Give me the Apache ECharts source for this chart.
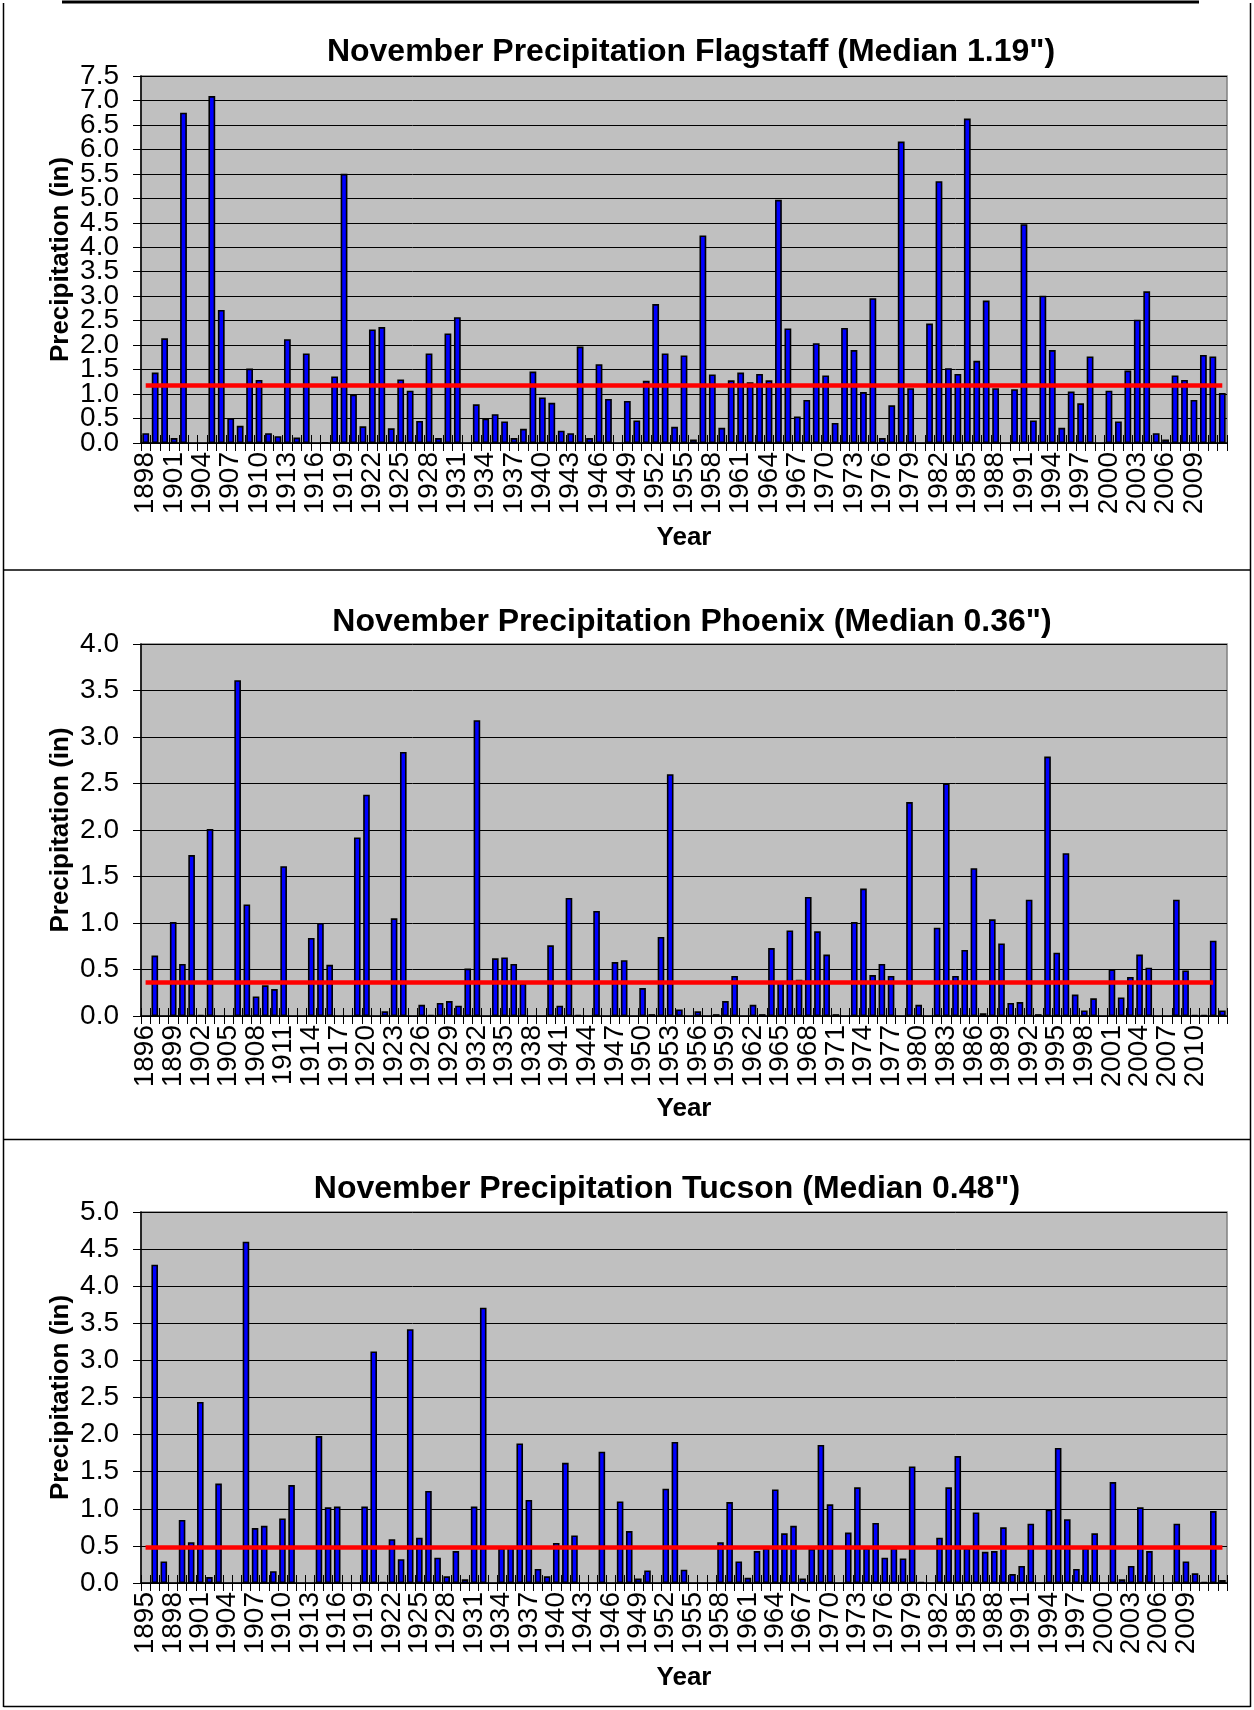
<!DOCTYPE html>
<html>
<head>
<meta charset="utf-8">
<script src="https://cdn.jsdelivr.net/npm/echarts@6/dist/echarts.min.js"></script>
<style>
  html, body { margin: 0; padding: 0; background: #ffffff; }
  #chart { width: 1254px; height: 1710px; }
</style>
</head>
<body>
<div id="chart"></div>
<script>
// ---------- Flagstaff ----------
const flagstaffYears = [
  1898, 1899,
  1900, 1901, 1902, 1903, 1904, 1905, 1906, 1907, 1908, 1909,
  1910, 1911, 1912, 1913, 1914, 1915, 1916, 1917, 1918, 1919,
  1920, 1921, 1922, 1923, 1924, 1925, 1926, 1927, 1928, 1929,
  1930, 1931, 1932, 1933, 1934, 1935, 1936, 1937, 1938, 1939,
  1940, 1941, 1942, 1943, 1944, 1945, 1946, 1947, 1948, 1949,
  1950, 1951, 1952, 1953, 1954, 1955, 1956, 1957, 1958, 1959,
  1960, 1961, 1962, 1963, 1964, 1965, 1966, 1967, 1968, 1969,
  1970, 1971, 1972, 1973, 1974, 1975, 1976, 1977, 1978, 1979,
  1980, 1981, 1982, 1983, 1984, 1985, 1986, 1987, 1988, 1989,
  1990, 1991, 1992, 1993, 1994, 1995, 1996, 1997, 1998, 1999,
  2000, 2001, 2002, 2003, 2004, 2005, 2006, 2007, 2008, 2009,
  2010, 2011, 2012
];
const flagstaffPrecip = [
  0.20, 1.44,
  2.14, 0.10, 6.75, null, null, 7.09, 2.72, 0.51, 0.35, 1.52,
  1.29, 0.20, 0.14, 2.12, 0.11, 1.83, null, 0.01, 1.36, 5.50,
  0.99, 0.34, 2.32, 2.37, 0.30, 1.30, 1.07, 0.45, 1.83, 0.10,
  2.24, 2.57, null, 0.79, 0.50, 0.59, 0.44, 0.10, 0.29, 1.46,
  0.93, 0.82, 0.25, 0.20, 1.97, 0.10, 1.61, 0.90, null, 0.86,
  0.46, 1.27, 2.84, 1.83, 0.33, 1.79, 0.07, 4.24, 1.40, 0.31,
  1.28, 1.44, 1.24, 1.41, 1.28, 4.97, 2.34, 0.54, 0.88, 2.04,
  1.38, 0.41, 2.35, 1.90, 1.04, 2.96, 0.10, 0.77, 6.16, 1.12,
  null, 2.44, 5.35, 1.53, 1.41, 6.63, 1.68, 2.91, 1.12, null,
  1.10, 4.47, 0.46, 3.01, 1.90, 0.31, 1.05, 0.81, 1.77, null,
  1.07, 0.44, 1.48, 2.52, 3.10, 0.20, 0.07, 1.38, 1.29, 0.88,
  1.80, 1.77, 1.02
];
const flagstaffTickYears = [
  1898, 1901, 1904, 1907, 1910, 1913, 1916, 1919, 1922, 1925,
  1928, 1931, 1934, 1937, 1940, 1943, 1946, 1949, 1952, 1955,
  1958, 1961, 1964, 1967, 1970, 1973, 1976, 1979, 1982, 1985,
  1988, 1991, 1994, 1997, 2000, 2003, 2006, 2009
];
const flagstaffValueTicks = [
  '0.0', '0.5', '1.0', '1.5', '2.0', '2.5', '3.0', '3.5',
  '4.0', '4.5', '5.0', '5.5', '6.0', '6.5', '7.0', '7.5'
];
const flagstaffMedian = 1.19;
const flagstaffMedianSpan = [1898, 2012];

// ---------- Phoenix ----------
const phoenixYears = [
  1896, 1897, 1898, 1899,
  1900, 1901, 1902, 1903, 1904, 1905, 1906, 1907, 1908, 1909,
  1910, 1911, 1912, 1913, 1914, 1915, 1916, 1917, 1918, 1919,
  1920, 1921, 1922, 1923, 1924, 1925, 1926, 1927, 1928, 1929,
  1930, 1931, 1932, 1933, 1934, 1935, 1936, 1937, 1938, 1939,
  1940, 1941, 1942, 1943, 1944, 1945, 1946, 1947, 1948, 1949,
  1950, 1951, 1952, 1953, 1954, 1955, 1956, 1957, 1958, 1959,
  1960, 1961, 1962, 1963, 1964, 1965, 1966, 1967, 1968, 1969,
  1970, 1971, 1972, 1973, 1974, 1975, 1976, 1977, 1978, 1979,
  1980, 1981, 1982, 1983, 1984, 1985, 1986, 1987, 1988, 1989,
  1990, 1991, 1992, 1993, 1994, 1995, 1996, 1997, 1998, 1999,
  2000, 2001, 2002, 2003, 2004, 2005, 2006, 2007, 2008, 2009,
  2010, 2011, 2012, 2013
];
const phoenixPrecip = [
  null, 0.65, null, 1.01,
  0.56, 1.73, 0.01, 2.01, null, null, 3.61, 1.20, 0.21, 0.33,
  0.29, 1.61, null, null, 0.84, 1.00, 0.55, null, null, 1.92,
  2.38, null, 0.05, 1.05, 2.84, null, 0.12, 0.01, 0.14, 0.16,
  0.11, 0.51, 3.18, null, 0.62, 0.63, 0.56, 0.35, null, null,
  0.76, 0.11, 1.27, 0.01, null, 1.13, null, 0.58, 0.60, null,
  0.30, 0.02, 0.85, 2.60, 0.07, null, 0.05, null, 0.02, 0.16,
  0.43, null, 0.12, 0.02, 0.73, 0.36, 0.92, 0.39, 1.28, 0.91,
  0.66, 0.02, null, 1.01, 1.37, 0.44, 0.56, 0.43, null, 2.30,
  0.12, null, 0.95, 2.50, 0.43, 0.71, 1.59, 0.03, 1.04, 0.78,
  0.14, 0.15, 1.25, 0.02, 2.79, 0.68, 1.75, 0.23, 0.06, 0.19,
  null, 0.50, 0.20, 0.42, 0.66, 0.52, null, null, 1.25, 0.49,
  0.01, 0.01, 0.81, 0.06
];
const phoenixTickYears = [
  1896, 1899, 1902, 1905, 1908, 1911, 1914, 1917, 1920, 1923,
  1926, 1929, 1932, 1935, 1938, 1941, 1944, 1947, 1950, 1953,
  1956, 1959, 1962, 1965, 1968, 1971, 1974, 1977, 1980, 1983,
  1986, 1989, 1992, 1995, 1998, 2001, 2004, 2007, 2010
];
const phoenixValueTicks = ['0.0', '0.5', '1.0', '1.5', '2.0', '2.5', '3.0', '3.5', '4.0'];
const phoenixMedian = 0.36;
const phoenixMedianSpan = [1896, 2012];

// ---------- Tucson ----------
const tucsonYears = [
  1895, 1896, 1897, 1898, 1899,
  1900, 1901, 1902, 1903, 1904, 1905, 1906, 1907, 1908, 1909,
  1910, 1911, 1912, 1913, 1914, 1915, 1916, 1917, 1918, 1919,
  1920, 1921, 1922, 1923, 1924, 1925, 1926, 1927, 1928, 1929,
  1930, 1931, 1932, 1933, 1934, 1935, 1936, 1937, 1938, 1939,
  1940, 1941, 1942, 1943, 1944, 1945, 1946, 1947, 1948, 1949,
  1950, 1951, 1952, 1953, 1954, 1955, 1956, 1957, 1958, 1959,
  1960, 1961, 1962, 1963, 1964, 1965, 1966, 1967, 1968, 1969,
  1970, 1971, 1972, 1973, 1974, 1975, 1976, 1977, 1978, 1979,
  1980, 1981, 1982, 1983, 1984, 1985, 1986, 1987, 1988, 1989,
  1990, 1991, 1992, 1993, 1994, 1995, 1996, 1997, 1998, 1999,
  2000, 2001, 2002, 2003, 2004, 2005, 2006, 2007, 2008, 2009,
  2010, 2011, 2012, 2013
];
const tucsonPrecip = [
  null, 4.29, 0.29, null, 0.85,
  0.55, 2.44, 0.08, 1.34, null, null, 4.60, 0.74, 0.77, 0.16,
  0.87, 1.32, null, null, 1.98, 1.02, 1.03, null, null, 1.03,
  3.12, 0.01, 0.59, 0.32, 3.42, 0.61, 1.24, 0.34, 0.09, 0.43,
  0.05, 1.03, 3.71, null, 0.47, 0.48, 1.88, 1.12, 0.19, 0.09,
  0.54, 1.62, 0.64, null, null, 1.77, null, 1.10, 0.70, 0.06,
  0.17, null, 1.27, 1.90, 0.18, null, null, null, 0.55, 1.09,
  0.29, 0.07, 0.43, 0.47, 1.26, 0.67, 0.77, 0.06, 0.46, 1.86,
  1.06, null, 0.68, 1.29, 0.47, 0.81, 0.34, 0.47, 0.33, 1.57,
  0.01, null, 0.61, 1.29, 1.71, 0.47, 0.95, 0.42, 0.43, 0.75,
  0.12, 0.23, 0.80, null, 0.99, 1.82, 0.86, 0.19, 0.47, 0.67,
  null, 1.36, 0.05, 0.23, 1.02, 0.43, null, null, 0.80, 0.29,
  0.13, 0.01, 0.97, 0.04
];
const tucsonTickYears = [
  1895, 1898, 1901, 1904, 1907, 1910, 1913, 1916, 1919, 1922,
  1925, 1928, 1931, 1934, 1937, 1940, 1943, 1946, 1949, 1952,
  1955, 1958, 1961, 1964, 1967, 1970, 1973, 1976, 1979, 1982,
  1985, 1988, 1991, 1994, 1997, 2000, 2003, 2006, 2009
];
const tucsonValueTicks = ['0.0', '0.5', '1.0', '1.5', '2.0', '2.5', '3.0', '3.5', '4.0', '4.5', '5.0'];
const tucsonMedian = 0.48;
const tucsonMedianSpan = [1895, 2013];

// ---------- layout ----------
const FONT = '"Liberation Sans", Arial, Helvetica, sans-serif';

const panels = [
  {
    title: 'November Precipitation Flagstaff (Median 1.19")',
    titleX: 686, titleTop: 31,
    grid: { top: 76, height: 367 },
    yMax: 7.5, valueTicks: flagstaffValueTicks,
    years: flagstaffYears, values: flagstaffPrecip, ticks: flagstaffTickYears,
    median: flagstaffMedian, span: flagstaffMedianSpan, yearGap: 82
  },
  {
    title: 'November Precipitation Phoenix (Median 0.36")',
    titleX: 687, titleTop: 601,
    grid: { top: 644, height: 372 },
    yMax: 4.0, valueTicks: phoenixValueTicks,
    years: phoenixYears, values: phoenixPrecip, ticks: phoenixTickYears,
    median: phoenixMedian, span: phoenixMedianSpan, yearGap: 80
  },
  {
    title: 'November Precipitation Tucson (Median 0.48")',
    titleX: 662, titleTop: 1168,
    grid: { top: 1212, height: 371 },
    yMax: 5.0, valueTicks: tucsonValueTicks,
    years: tucsonYears, values: tucsonPrecip, ticks: tucsonTickYears,
    median: tucsonMedian, span: tucsonMedianSpan, yearGap: 82
  }
];

const titles = [], grids = [], xAxes = [], yAxes = [], series = [];

panels.forEach((p, i) => {
  const cats = p.years.map(String);
  const tickSet = new Set(p.ticks.map(String));

  titles.push({
    text: p.title,
    left: p.titleX,
    top: p.titleTop,
    textAlign: 'center',
    textStyle: { fontFamily: FONT, fontSize: 32, fontWeight: 'bold', color: '#000' }
  });

  grids.push({
    left: 141, width: 1086, top: p.grid.top, height: p.grid.height,
    show: true, backgroundColor: '#C0C0C0', borderColor: '#808080', borderWidth: 1.5
  });

  // year axis: a label on every third year, ticks between all categories (outward half)
  xAxes.push({
    type: 'category', gridIndex: i, data: cats, boundaryGap: true, position: 'bottom',
    axisLine: { show: true, lineStyle: { color: '#000', width: 1.5 } },
    axisTick: { show: true, interval: 0, length: 8, lineStyle: { color: '#000', width: 1 } },
    axisLabel: {
      interval: 0,
      formatter: val => (tickSet.has(val) ? val : ''),
      rotate: 90, margin: 9, fontFamily: FONT, fontSize: 28, color: '#000',
      hideOverlap: false
    },
    splitLine: { show: false },
    name: 'Year', nameLocation: 'middle', nameGap: p.yearGap,
    nameTextStyle: { fontFamily: FONT, fontSize: 26, fontWeight: 'bold', color: '#000' }
  });
  // companion axis giving the inward half of each tick mark
  xAxes.push({
    type: 'category', gridIndex: i, data: cats, boundaryGap: true, position: 'bottom',
    axisLine: { show: false },
    axisTick: { show: true, inside: true, interval: 0, length: 8, lineStyle: { color: '#000', width: 1 } },
    axisLabel: { show: false },
    splitLine: { show: false }
  });

  // value axis: scale, gridlines, ticks
  yAxes.push({
    type: 'value', gridIndex: i, min: 0, max: p.yMax, interval: 0.5, position: 'left',
    axisLine: { show: true, lineStyle: { color: '#000', width: 1.5 } },
    axisTick: { show: true, length: 8, lineStyle: { color: '#000' } },
    axisLabel: { show: false },
    splitLine: { show: true, lineStyle: { color: '#000', width: 1 } },
    name: 'Precipitation (in)', nameLocation: 'middle', nameRotate: 90, nameGap: 67,
    nameTextStyle: { fontFamily: FONT, fontSize: 26, fontWeight: 'bold', color: '#000' }
  });
  // tick-label axis: one label per 0.5 in step, laid out on the same span
  yAxes.push({
    type: 'category', gridIndex: i, data: p.valueTicks, boundaryGap: false, position: 'left',
    axisLine: { show: false },
    axisTick: { show: false },
    splitLine: { show: false },
    axisLabel: {
      interval: 0, fontFamily: FONT, fontSize: 28, color: '#000', margin: 22, hideOverlap: false
    }
  });

  series.push({
    type: 'bar', xAxisIndex: i * 2, yAxisIndex: i * 2,
    data: p.values,
    barCategoryGap: '28%',
    itemStyle: { color: '#0000FF', borderColor: '#000', borderWidth: 1.6 },
    emphasis: { disabled: true },
    markLine: {
      silent: true, symbol: ['none', 'none'],
      label: { show: false },
      lineStyle: { color: '#FF0000', width: 4.5, type: 'solid', opacity: 1 },
      emphasis: { disabled: true },
      data: [[
        { coord: [String(p.span[0]), p.median] },
        { coord: [String(p.span[1]), p.median] }
      ]]
    }
  });
});

// frames around the three panels
const frame = { stroke: '#000', lineWidth: 1.5 };
const graphics = [
  { type: 'line', shape: { x1: 62, y1: 2, x2: 1199, y2: 2 }, style: { stroke: '#000', lineWidth: 3 } },
  { type: 'line', shape: { x1: 3.5, y1: 3, x2: 3.5, y2: 1707 }, style: frame },
  { type: 'line', shape: { x1: 1250.5, y1: 3, x2: 1250.5, y2: 1707 }, style: frame },
  { type: 'line', shape: { x1: 3.5, y1: 570, x2: 1250.5, y2: 570 }, style: frame },
  { type: 'line', shape: { x1: 3.5, y1: 1139.5, x2: 1250.5, y2: 1139.5 }, style: frame },
  { type: 'line', shape: { x1: 3.5, y1: 1706.5, x2: 1250.5, y2: 1706.5 }, style: frame }
];

const chart = echarts.init(document.getElementById('chart'), null, { renderer: 'canvas' });
chart.setOption({
  animation: false,
  backgroundColor: '#ffffff',
  title: titles,
  grid: grids,
  xAxis: xAxes,
  yAxis: yAxes,
  series: series,
  graphic: graphics
});
</script>
</body>
</html>
